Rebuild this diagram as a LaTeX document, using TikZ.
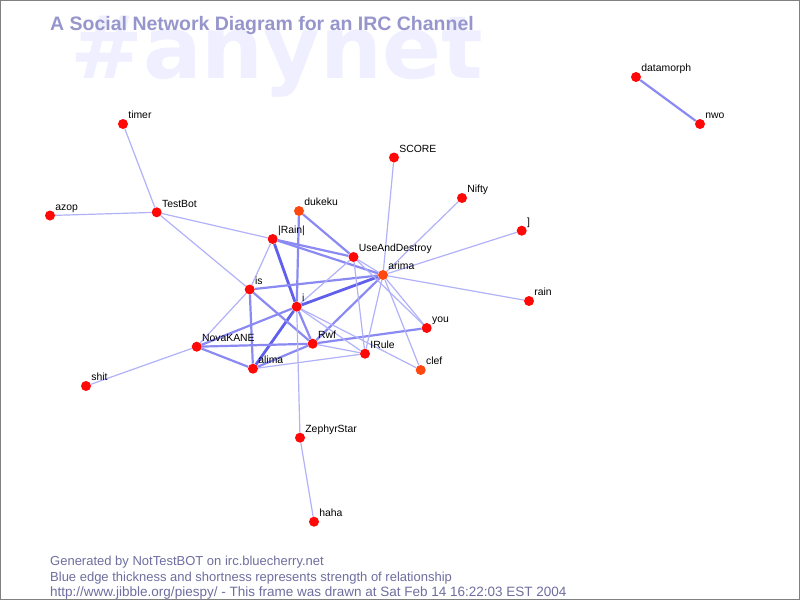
\documentclass[tikz,border=0pt]{standalone}
\usepackage{fontspec}
\setmainfont{Liberation Sans}
\newfontfamily\markfont{DejaVu Sans}
\usetikzlibrary{backgrounds}

\definecolor{nodered}{RGB}{255,8,8}
\definecolor{nodeorange}{RGB}{255,72,16}
\definecolor{weakblue}{RGB}{178,178,250}
\definecolor{midblue}{RGB}{138,138,242}
\definecolor{strongblue}{RGB}{96,96,236}
\definecolor{titleblue}{RGB}{150,150,204}
\definecolor{footblue}{RGB}{110,110,160}
\definecolor{markblue}{RGB}{239,239,255}

\begin{document}
\begin{tikzpicture}[x=1pt, y=-1pt,
    nick/.style={circle, fill=nodered, minimum size=10pt, inner sep=0pt},
    hot/.style={nick, fill=nodeorange},
    nicklabel/.style={anchor=base west, inner sep=0pt, xshift=1.5pt, yshift=1.5pt, font=\fontsize{10.4}{12}\selectfont},
    weak/.style={draw=weakblue, line width=1.2pt},
    mid/.style={draw=midblue, line width=2.2pt},
    strong/.style={draw=strongblue, line width=2.8pt},
    footer/.style={anchor=base west, inner sep=0pt, text=footblue, font=\fontsize{13}{15}\selectfont}]

    \useasboundingbox (0,0) rectangle (800,600);

    % Title and footer
    \node[anchor=base west, inner sep=0pt, text=titleblue, font=\bfseries\fontsize{19.5}{22}\selectfont] (title) at (50,30) {A Social Network Diagram for an IRC Channel};
    \node[footer] (gen) at (50,565) {Generated by NotTestBOT on irc.bluecherry.net};
    \node[footer] (legend) at (50,581) {Blue edge thickness and shortness represents strength of relationship};
    \node[footer, font=\fontsize{13.5}{15}\selectfont] (stamp) at (50,596) {http://www.jibble.org/piespy/ - This frame was drawn at Sat Feb 14 16:22:03 EST 2004};

    % Nicks
    \node[nick, label={[nicklabel]north east:datamorph}] (datamorph) at (636,77) {};
    \node[nick, label={[nicklabel]north east:nwo}] (nwo) at (700,124) {};
    \node[nick, label={[nicklabel]north east:timer}] (timer) at (123,124) {};
    \node[nick, label={[nicklabel]north east:SCORE}] (score) at (394,157.5) {};
    \node[nick, label={[nicklabel]north east:Nifty}] (nifty) at (462,198) {};
    \node[nick, label={[nicklabel]north east:azop}] (azop) at (50,215.5) {};
    \node[nick, label={[nicklabel]north east:TestBot}] (testbot) at (156.7,212.3) {};
    \node[hot, label={[nicklabel]north east:dukeku}] (dukeku) at (299,211) {};
    \node[nick, label={[nicklabel]north east:{]}}] (bracket) at (521.7,230.7) {};
    \node[nick, label={[nicklabel]north east:{|Rain|}}] (rainpipe) at (272.7,239) {};
    \node[nick, label={[nicklabel]north east:UseAndDestroy}] (uad) at (353.5,257) {};
    \node[hot, label={[nicklabel]north east:arima}] (arima) at (383,275) {};
    \node[nick, label={[nicklabel]north east:is}] (is) at (249.7,289.5) {};
    \node[nick, label={[nicklabel]north east:i}] (i) at (296.7,306.7) {};
    \node[nick, label={[nicklabel]north east:rain}] (rain) at (529,301) {};
    \node[nick, label={[nicklabel]north east:you}] (you) at (426.7,328) {};
    \node[nick, label={[nicklabel]north east:NovaKANE}] (novakane) at (196.7,346.7) {};
    \node[nick, label={[nicklabel]north east:Rwf}] (rwf) at (312.7,343.7) {};
    \node[nick, label={[nicklabel]north east:IRule}] (irule) at (365,353.7) {};
    \node[nick, label={[nicklabel]north east:alima}] (alima) at (253,368.7) {};
    \node[hot, label={[nicklabel]north east:clef}] (clef) at (420.7,370) {};
    \node[nick, label={[nicklabel]north east:shit}] (shit) at (86,386) {};
    \node[nick, label={[nicklabel]north east:ZephyrStar}] (zephyr) at (300,437.7) {};
    \node[nick, label={[nicklabel]north east:haha}] (haha) at (314,521.7) {};

    \begin{scope}[on background layer]
        \fill[white] (0,0) rectangle (800,600);
        \node[anchor=base west, inner sep=0pt, text=markblue, font=\markfont\bfseries\fontsize{87}{87}\selectfont] (watermark) at (70,78) {\#anynet};

        % Strong edges
        \draw[strong] (rainpipe) -- (i);
        \draw[strong] (i) -- (arima);
        \draw[strong] (i) -- (alima);

        % Medium edges
        \draw[mid] (rainpipe) -- (uad);
        \draw[mid] (rainpipe) -- (arima);
        \draw[mid] (dukeku) -- (i);
        \draw[mid] (dukeku) -- (uad);
        \draw[mid] (i) -- (rwf);
        \draw[mid] (i) -- (novakane);
        \draw[mid] (is) -- (arima);
        \draw[mid] (is) -- (alima);
        \draw[mid] (is) -- (rwf);
        \draw[mid] (novakane) -- (rwf);
        \draw[mid] (novakane) -- (alima);
        \draw[mid] (alima) -- (rwf);
        \draw[mid] (rwf) -- (you);
        \draw[mid] (arima) -- (rwf);
        \draw[mid] (datamorph) -- (nwo);

        % Weak edges
        \draw[weak] (timer) -- (testbot);
        \draw[weak] (azop) -- (testbot);
        \draw[weak] (testbot) -- (rainpipe);
        \draw[weak] (testbot) -- (is);
        \draw[weak] (rainpipe) -- (is);
        \draw[weak] (is) -- (novakane);
        \draw[weak] (novakane) -- (shit);
        \draw[weak] (i) -- (uad);
        \draw[weak] (i) -- (irule);
        \draw[weak] (i) -- (clef);
        \draw[weak] (i) -- (zephyr);
        \draw[weak] (zephyr) -- (haha);
        \draw[weak] (uad) -- (arima);
        \draw[weak] (uad) -- (irule);
        \draw[weak] (uad) -- (you);
        \draw[weak] (arima) -- (score);
        \draw[weak] (arima) -- (nifty);
        \draw[weak] (arima) -- (bracket);
        \draw[weak] (arima) -- (rain);
        \draw[weak] (arima) -- (irule);
        \draw[weak] (arima) -- (you);
        \draw[weak] (arima) -- (clef);
        \draw[weak] (rwf) -- (irule);
        \draw[weak] (alima) -- (irule);
    \end{scope}

    % Frame
    \draw[gray, line width=1pt] (0.5,0.5) rectangle (799.5,599.5);

\end{tikzpicture}
\end{document}
